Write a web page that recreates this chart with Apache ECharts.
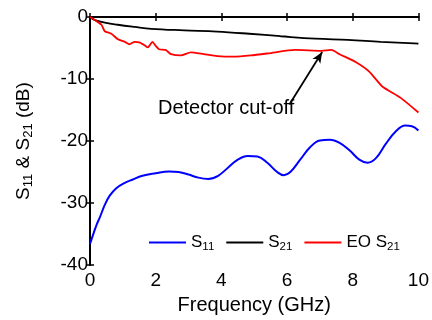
<!DOCTYPE html>
<html><head><meta charset="utf-8">
<script src="https://cdn.jsdelivr.net/npm/echarts@6/dist/echarts.min.js"></script>
<style>html,body{margin:0;padding:0;background:#fff}#c{width:432px;height:320px}</style>
</head><body><div id="c"></div>
<script>
const FONT = 'Liberation Sans';
const xTicks = [0, 2, 4, 6, 8, 10];
const yTicks = [-40, -30, -20, -10, 0];

const s11Freq = [0,0.1,0.2,0.3,0.45,0.6,0.8,1.0,1.3,1.6,2.0,2.4,2.7,3.0,3.3,3.6,3.9,4.2,4.5,4.8,5.1,5.4,5.7,5.9,6.1,6.4,6.7,7.0,7.3,7.6,7.9,8.2,8.45,8.7,9.0,9.3,9.6,9.8,10];
const s11Val  = [-36.6,-35,-33.5,-32.3,-30.3,-28.8,-27.6,-26.9,-26.2,-25.6,-25.2,-24.9,-25.0,-25.4,-25.9,-26.1,-25.6,-24.3,-23.0,-22.4,-22.5,-23.5,-25.0,-25.5,-25.0,-23.0,-21.0,-19.9,-19.8,-20.3,-21.5,-23.0,-23.5,-22.8,-20.5,-18.5,-17.5,-17.6,-18.3];

const s21Freq = [0,0.15,0.45,0.85,1.36,1.86,2.87,3.87,4.85,5.8,6.85,7.85,8.85,9.87,10];
const s21Val  = [0,-0.5,-0.9,-1.25,-1.6,-1.9,-2.15,-2.35,-2.7,-3.1,-3.5,-3.7,-4.0,-4.25,-4.3];

const eoFreq = [0,0.15,0.35,0.45,0.65,0.85,1.06,1.2,1.36,1.5,1.66,1.76,1.9,2.0,2.1,2.3,2.47,2.77,3.07,3.47,3.87,4.38,4.9,5.44,6.24,7.05,7.35,7.6,8.1,8.5,8.9,9.45,10];
const eoVal  = [0,-0.5,-1.25,-2.3,-2.7,-3.6,-4.0,-4.4,-4.0,-4.1,-4.55,-4.9,-4.0,-4.65,-5.2,-5.3,-6.0,-6.2,-5.7,-6.0,-6.3,-6.4,-6.2,-5.85,-5.3,-5.45,-5.3,-6.0,-7.3,-8.8,-11.2,-13.0,-15.4];

const annotText = 'Detector cut-off';
const annotPos = [2.07, -14.7];
const arrowFrom = [6.07, -14.1];
const arrowTo = [7.07, -5.65];

function pairs(xs, ys){ return xs.map((x,i)=>[x, ys[i]]); }

const chart = echarts.init(document.getElementById('c'), null, {renderer:'canvas'});
const rich = {
  m: {fontSize: 17, fontFamily: FONT, color:'#000'},
  s: {fontSize: 11.5, fontFamily: FONT, color:'#000', padding:[9,0,0,0]}
};
const legendNames = {'S11':'{m|S}{s|11}', 'S21':'{m|S}{s|21}', 'EO S21':'{m|EO S}{s|21}'};
const axLine = {show:true, lineStyle:{color:'#000', width:2}};
const tick = {inside:true, length:4, lineStyle:{color:'#000',width:1.5}};
chart.setOption({
  animation:false,
  grid:{left:90, right:11, top:17, bottom:48},
  xAxis:[{
    type:'value', min:0, max:10, interval:2,
    axisLine:axLine, axisTick:tick, splitLine:{show:false},
    axisLabel:{fontSize:19, fontFamily:FONT, color:'#000', margin:6},
    name:'Frequency (GHz)', nameLocation:'middle', nameGap:27,
    nameTextStyle:{fontSize:20, fontFamily:FONT, color:'#000'}
  },{
    type:'value', min:0, max:10, interval:2, position:'top',
    axisLine:axLine, axisTick:tick, axisLabel:{show:false}, splitLine:{show:false}
  }],
  yAxis:[{
    type:'value', min:-40, max:0, interval:10,
    axisLine:axLine, axisTick:tick, splitLine:{show:false},
    axisLabel:{fontSize:19, fontFamily:FONT, color:'#000', margin:2},
    name:'{m|S}{s|11}{m| & S}{s|21}{m| (dB)}', nameLocation:'middle', nameGap:55, nameRotate:90,
    nameTextStyle:{rich:{
      m:{fontSize:19, fontFamily:FONT, color:'#000'},
      s:{fontSize:13, fontFamily:FONT, color:'#000', padding:[10,0,0,0]}
    }}
  },{
    type:'value', min:-40, max:0, interval:10, position:'right',
    axisLine:axLine, axisTick:tick, axisLabel:{show:false}, splitLine:{show:false}
  }],
  legend:{
    left:144, top:229, itemWidth:37, itemHeight:2, itemGap:12,
    icon:'rect',
    data:['S11','S21','EO S21'],
    formatter: n => legendNames[n],
    textStyle:{rich:rich, padding:[0,0,0,0]}
  },
  series:[
    {name:'S11', type:'line', data:pairs(s11Freq,s11Val), smooth:0.4, showSymbol:false,
     lineStyle:{color:'#0000ff', width:2}, itemStyle:{color:'#0000ff'}},
    {name:'S21', type:'line', data:pairs(s21Freq,s21Val), smooth:0.4, showSymbol:false,
     lineStyle:{color:'#000', width:1.8}, itemStyle:{color:'#000'}},
    {name:'EO S21', type:'line', data:pairs(eoFreq,eoVal), smooth:0.2, showSymbol:false,
     lineStyle:{color:'#ff0000', width:1.8}, itemStyle:{color:'#ff0000'},
     markLine:{silent:true, symbol:['none','arrow'], symbolSize:[7,11],
       lineStyle:{color:'#000', width:1.8, type:'solid'}, label:{show:false},
       data:[[{coord:arrowFrom},{coord:arrowTo}]]},
     markPoint:{silent:true, symbol:'circle', symbolSize:0,
       data:[{coord:annotPos, label:{show:true, formatter:annotText, position:'right', distance:0,
         fontSize:20, fontFamily:FONT, color:'#000'}}]}
    }
  ]
});
</script></body></html>
